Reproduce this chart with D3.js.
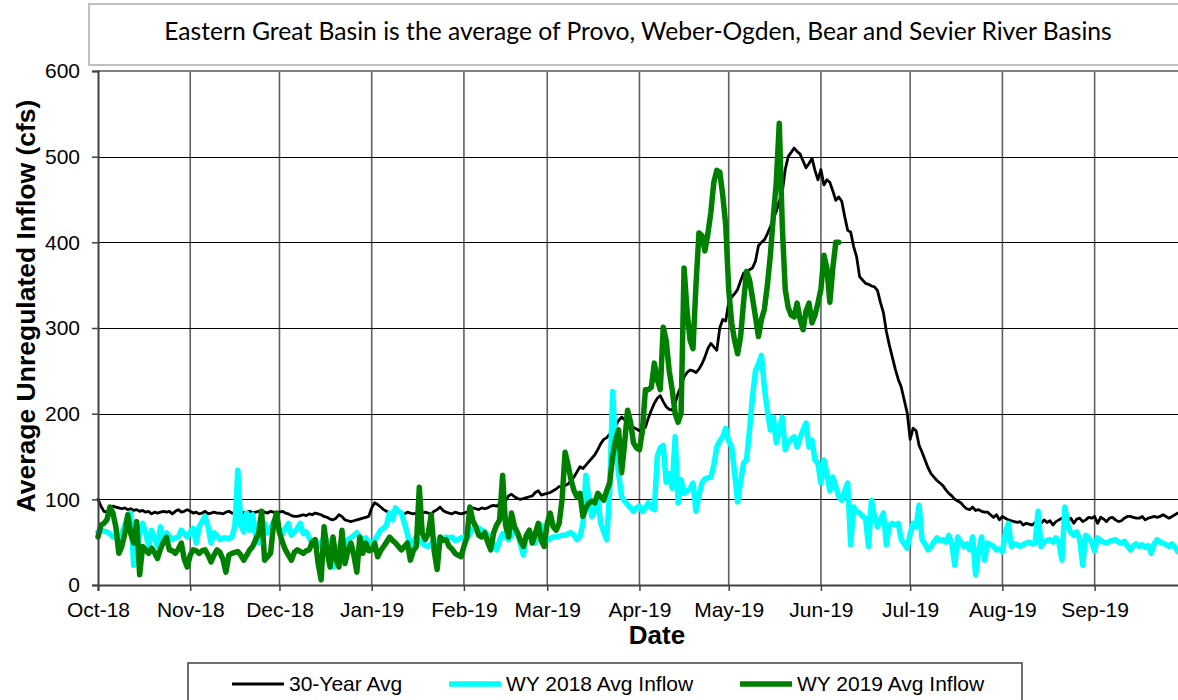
<!DOCTYPE html>
<html>
<head>
<meta charset="utf-8">
<script src="https://cdn.jsdelivr.net/npm/d3@7"></script>
<style>
  body { margin: 0; background: #fff; }
  text { font-family: "Liberation Sans", Arial, sans-serif; }
</style>
</head>
<body>
<svg id="chart" width="1178" height="700"></svg>
<script>
// daily values, water year starting 1 Oct 2018
var startDate = new Date(2018, 9, 1);
var endDate = new Date(2019, 9, 1);

var avg30 = [
  // Oct
  100, 92, 86, 85, 90, 92, 91, 90, 89, 90, 88, 89, 87, 88, 86, 87, 85, 86, 83, 85, 84, 85, 86, 85, 86, 83, 86, 88, 85, 86, 88,
  // Nov
  86, 84, 85, 83, 84, 86, 83, 84, 85, 84, 84, 83, 85, 86, 84, 84, 85, 86, 84, 85, 86, 84, 85, 86, 87, 85, 84, 86, 85, 84,
  // Dec
  85, 86, 84, 83, 81, 80, 80, 81, 82, 81, 83, 82, 84, 83, 82, 80, 79, 77, 76, 78, 82, 80, 76, 75, 74, 75, 76, 77, 78, 79, 80,
  // Jan
  90, 96, 94, 91, 88, 86, 84, 83, 84, 86, 84, 83, 85, 84, 83, 84, 85, 84, 85, 84, 83, 86, 88, 91, 87, 85, 84, 83, 85, 84, 83,
  // Feb
  84, 85, 88, 90, 89, 88, 90, 89, 90, 92, 93, 92, 95, 96, 98, 104, 106, 103, 101, 100, 101, 102, 103, 104, 108, 110, 105, 106,
  // Mar
  107, 108, 110, 112, 115, 114, 116, 118, 122, 126, 132, 138, 136, 140, 144, 148, 152, 158, 165, 170, 172, 176, 181, 186, 192, 196, 193, 190, 186, 184, 182,
  // Apr
  180, 182, 184, 195, 204, 212, 218, 221, 214, 208, 205, 204, 212, 224, 232, 243, 248, 251, 250, 248, 252, 258, 266, 276, 282, 278, 274, 300, 310, 308,
  // May
  330, 336, 340, 345, 355, 364, 366, 368, 370, 378, 396, 400, 403, 410, 418, 428, 436, 448, 458, 485, 500, 505, 510, 506, 503, 495, 487, 492, 498, 484, 473,
  // Jun
  485, 467, 473, 470, 460, 449, 453, 448, 430, 414, 412, 395, 383, 360, 356, 352, 351, 349, 348, 344, 330, 318, 296, 280, 266, 252, 240, 231, 216, 201,
  // Jul
  170, 183, 180, 163, 155, 146, 137, 130, 126, 122, 119, 116, 111, 107, 104, 100, 98, 96, 92, 89, 88, 91, 87, 88, 86, 85, 85, 82, 79, 82, 76,
  // Aug
  80, 78, 76, 75, 74, 73, 74, 70, 72, 71, 70, 73, 74, 72, 76, 73, 75, 70, 74, 76, 78, 79, 75, 78, 72, 77, 78, 74, 76, 79, 78,
  // Sep
  80, 72, 79, 77, 74, 78, 79, 76, 74, 75, 78, 80, 80, 79, 78, 78, 80, 76, 78, 79, 80, 79, 80, 82, 80, 78, 80, 82, 84, 83
];

var wy2018 = [
  // Oct
  62, 64, 63, 62, 60, 56, 57, 55, 60, 70, 80, 84, 23, 37, 60, 72, 61, 45, 64, 55, 45, 68, 49, 61, 57, 53, 55, 56, 64, 60, 56,
  // Nov
  62, 66, 49, 68, 74, 80, 68, 49, 61, 58, 53, 55, 55, 54, 56, 68, 134, 70, 62, 84, 64, 82, 58, 49, 62, 72, 61, 66, 74, 70,
  // Dec
  64, 60, 66, 72, 58, 62, 66, 72, 60, 62, 55, 49, 52, 45, 50, 55, 52, 40, 21, 38, 45, 50, 48, 53, 55, 58, 61, 56, 53, 55, 50,
  // Jan
  49, 52, 58, 64, 66, 70, 84, 76, 90, 86, 84, 72, 60, 41, 50, 56, 52, 49, 46, 45, 48, 52, 50, 53, 54, 56, 55, 56, 52, 53, 55,
  // Feb
  56, 54, 60, 66, 68, 66, 64, 62, 58, 56, 48, 41, 52, 60, 56, 53, 58, 68, 60, 48, 35, 58, 60, 52, 49, 62, 70, 52,
  // Mar
  52, 54, 56, 56, 57, 58, 58, 60, 61, 58, 53, 56, 72, 128, 100, 80, 86, 100, 72, 62, 53, 110, 226, 160, 130, 103, 98, 94, 90, 86, 90,
  // Apr
  92, 86, 90, 96, 90, 88, 150, 160, 163, 120, 130, 113, 173, 96, 123, 107, 110, 112, 119, 86, 105, 119, 124, 125, 126, 140, 161, 168, 173, 183,
  // May
  168, 161, 130, 97, 120, 142, 146, 181, 220, 250, 258, 268, 230, 204, 181, 196, 166, 180, 196, 158, 166, 170, 173, 161, 172, 181, 189, 161, 169, 146, 142,
  // Jun
  119, 146, 130, 110, 126, 115, 103, 99, 110, 119, 47, 91, 86, 84, 80, 78, 45, 99, 80, 68, 76, 84, 47, 70, 72, 70, 72, 53, 48, 43,
  // Jul
  60, 72, 68, 93, 53, 48, 41, 45, 50, 55, 52, 53, 50, 58, 48, 23, 56, 50, 45, 48, 41, 56, 12, 40, 56, 29, 49, 47, 45, 41, 42,
  // Aug
  39, 60, 72, 45, 48, 47, 45, 47, 49, 50, 48, 49, 86, 45, 50, 52, 53, 50, 55, 50, 29, 91, 70, 61, 58, 62, 53, 23, 58, 55, 50,
  // Sep
  40, 55, 52, 50, 49, 51, 52, 53, 50, 49, 51, 46, 41, 46, 48, 45, 47, 44, 46, 37, 48, 53, 50, 49, 47, 45, 48, 44, 39, 40
];

var wy2019 = [
  // Oct
  56, 70, 72, 76, 91, 84, 68, 37, 45, 60, 82, 60, 49, 74, 12, 45, 41, 37, 43, 38, 31, 42, 50, 56, 41, 40, 37, 42, 49, 30, 21,
  // Nov
  35, 41, 40, 37, 40, 41, 35, 27, 35, 41, 38, 30, 15, 35, 37, 38, 39, 35, 29, 35, 41, 45, 53, 60, 86, 29, 33, 37, 70, 84,
  // Dec
  61, 50, 41, 35, 29, 38, 41, 39, 37, 40, 41, 50, 53, 25, 6, 68, 40, 21, 56, 30, 21, 64, 25, 40, 49, 35, 15, 56, 37, 49, 40,
  // Jan
  41, 49, 33, 40, 45, 50, 56, 52, 49, 45, 41, 45, 49, 29, 40, 45, 114, 60, 53, 60, 82, 40, 18, 56, 52, 53, 45, 42, 37, 35, 33,
  // Feb
  45, 56, 91, 75, 68, 58, 56, 61, 50, 41, 61, 70, 76, 128, 70, 56, 84, 68, 61, 52, 45, 58, 64, 49, 60, 72, 52, 45,
  // Mar
  72, 84, 68, 64, 72, 100, 155, 140, 123, 110, 103, 107, 80, 90, 96, 98, 96, 107, 103, 99, 110, 119, 150, 170, 181, 131, 165, 204, 190, 166, 160,
  // Apr
  158, 180, 228, 228, 231, 259, 240, 228, 301, 285, 250, 228, 200, 190, 201, 370, 320, 286, 276, 350, 411, 408, 390, 410, 435, 470, 484, 482, 455, 420,
  // May
  345, 306, 285, 270, 290, 330, 366, 356, 335, 313, 290, 310, 322, 350, 385, 430, 470, 539, 420, 345, 324, 315, 313, 329, 310, 298, 320, 329, 306, 315, 329,
  // Jun
  345, 385, 370, 330, 370, 400, 400
];

var yTicks = [0, 100, 200, 300, 400, 500, 600];
var seriesNames = ["30-Year Avg", "WY 2018 Avg Inflow", "WY 2019 Avg Inflow"];
var seriesColors = ["#000000", "#00ffff", "#008000"];
var seriesWidths = [2.8, 5.5, 5.5];
var titleText = "Eastern Great Basin is the average of Provo, Weber-Ogden, Bear and Sevier River Basins";

var plotLeft = 98, plotTop = 71, plotBottom = 585;
var plotRight = 98 + 365 * 2.975;

var svg = d3.select("#chart");
svg.append("rect").attr("width", 1178).attr("height", 700).attr("fill", "#fff");

var x = d3.scaleTime()
  .domain([startDate, endDate])
  .range([plotLeft, plotRight]);

var y = d3.scaleLinear()
  .domain([0, 600])
  .range([plotBottom, plotTop]);

function toPoints(values) {
  return values.map(function (v, i) {
    return { date: d3.timeDay.offset(startDate, i), value: v };
  });
}

// title box
svg.append("rect")
  .attr("x", 89).attr("y", 4)
  .attr("width", 1120).attr("height", 61)
  .attr("fill", "#fff")
  .attr("stroke", "#bfbfbf")
  .attr("stroke-width", 2);

var title = svg.append("text")
  .attr("x", 638).attr("y", 40)
  .attr("text-anchor", "middle")
  .style("font-family", "Lato, 'Open Sans', sans-serif")
  .style("font-size", "24px")
  .attr("fill", "#000")
  .text(titleText);
var tw = title.node().getComputedTextLength();
title.style("font-size", (24 * 948 / tw) + "px");

// gridlines
var months = d3.timeMonth.range(d3.timeMonth.offset(startDate, 1), endDate);
svg.append("g")
  .selectAll("line")
  .data(months)
  .enter()
  .append("line")
  .attr("x1", function (d) { return x(d); })
  .attr("x2", function (d) { return x(d); })
  .attr("y1", plotTop)
  .attr("y2", plotBottom)
  .attr("stroke", "#606060")
  .attr("stroke-width", 1.6);

svg.append("g")
  .selectAll("line")
  .data(yTicks.filter(function (t) { return t > 0 && t < 600; }))
  .enter()
  .append("line")
  .attr("x1", plotLeft)
  .attr("x2", 1178)
  .attr("y1", function (d) { return Math.round(y(d)) + 0.5; })
  .attr("y2", function (d) { return Math.round(y(d)) + 0.5; })
  .attr("stroke", "#000")
  .attr("stroke-width", 1.2);

// top frame line
svg.append("line")
  .attr("x1", plotLeft).attr("x2", 1178)
  .attr("y1", plotTop).attr("y2", plotTop)
  .attr("stroke", "#808080")
  .attr("stroke-width", 2);

// series lines
var line = d3.line()
  .x(function (d) { return x(d.date); })
  .y(function (d) { return y(d.value); });

[avg30, wy2018, wy2019].forEach(function (values, i) {
  svg.append("path")
    .datum(toPoints(values))
    .attr("fill", "none")
    .attr("stroke", seriesColors[i])
    .attr("stroke-width", seriesWidths[i])
    .attr("stroke-linejoin", "round")
    .attr("stroke-linecap", "round")
    .attr("d", line);
});

// axes
var yAxis = d3.axisLeft(y).tickValues(yTicks).tickSize(6).tickPadding(12);
var gy = svg.append("g")
  .attr("transform", "translate(" + plotLeft + ",0)")
  .call(yAxis);

var xAxis = d3.axisBottom(x)
  .ticks(d3.timeMonth.every(1))
  .tickFormat(d3.timeFormat("%b-%y"))
  .tickSize(6)
  .tickPadding(11);
var gx = svg.append("g")
  .attr("transform", "translate(0," + plotBottom + ")")
  .call(xAxis);

[gx, gy].forEach(function (g) {
  g.select(".domain").attr("stroke", "#404040").attr("stroke-width", 2);
  g.selectAll(".tick line").attr("stroke", "#404040").attr("stroke-width", 1.5);
  g.selectAll(".tick text")
    .attr("fill", "#000")
    .style("font-family", "'Liberation Sans', Arial, sans-serif")
    .style("font-size", "21px");
});
gx.selectAll(".tick")
  .filter(function (d) { return d >= endDate; })
  .remove();

// axis titles
svg.append("text")
  .attr("x", 657).attr("y", 644)
  .attr("text-anchor", "middle")
  .style("font-size", "26px")
  .style("font-weight", "bold")
  .text("Date");

svg.append("text")
  .attr("transform", "translate(35,306) rotate(-90)")
  .attr("text-anchor", "middle")
  .style("font-size", "26.5px")
  .style("font-weight", "bold")
  .text("Average Unregulated Inflow (cfs)");

// legend
var legend = svg.append("g");
legend.append("rect")
  .attr("x", 188).attr("y", 663)
  .attr("width", 834).attr("height", 60)
  .attr("fill", "#fff")
  .attr("stroke", "#404040")
  .attr("stroke-width", 1.5);

var legendX = [232, 449, 740];
seriesNames.forEach(function (name, i) {
  legend.append("line")
    .attr("x1", legendX[i]).attr("x2", legendX[i] + 52)
    .attr("y1", 684).attr("y2", 684)
    .attr("stroke", seriesColors[i])
    .attr("stroke-width", seriesWidths[i]);
  legend.append("text")
    .attr("x", legendX[i] + 57).attr("y", 691)
    .style("font-size", "21px")
    .text(name);
});
</script>
</body>
</html>
